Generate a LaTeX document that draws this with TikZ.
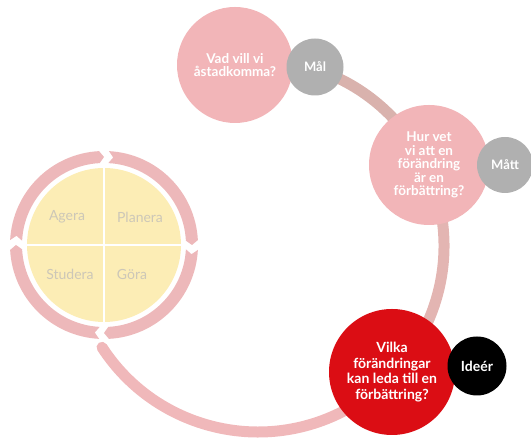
\documentclass[tikz,border=0pt]{standalone}
\usepackage{fontspec}
\setmainfont{Lato}
\usetikzlibrary{positioning,calc}
\definecolor{rosepink}{rgb}{0.95, 0.71, 0.72}
\definecolor{arcpink}{rgb}{0.94, 0.72, 0.73}
\definecolor{dustyrose}{rgb}{0.85, 0.70, 0.68}
\definecolor{midrose}{rgb}{0.89, 0.71, 0.70}
\definecolor{ringpink}{rgb}{0.93, 0.72, 0.73}
\definecolor{paleyellow}{rgb}{0.99, 0.93, 0.71}
\definecolor{fadedgray}{rgb}{0.80, 0.78, 0.72}
\definecolor{signalred}{rgb}{0.86, 0.05, 0.08}
\definecolor{stonegray}{rgb}{0.69, 0.69, 0.69}

\tikzset{
	question/.style={circle, minimum size=#1, inner sep=0pt, align=center, text=white, font=\bfseries\fontsize{13.5}{13.5}\selectfont},
	tag/.style={circle, minimum size=#1, inner sep=0pt, text=white, font=\bfseries\fontsize{13}{14}\selectfont},
	quarter/.style={text=fadedgray, font=\fontsize{14}{16}\selectfont},
	bigarc/.style={line width=11pt}
}

\begin{document}
\begin{tikzpicture}[x=1pt,y=1pt]
		\useasboundingbox (0,0) rectangle (531,443);
		
		% PDSA wheel
		\coordinate (P) at (104,198);
		\fill[paleyellow] (P) circle (77);
		\draw[white, line width=2.5pt] ($(P)+(0,-78)$) -- ($(P)+(0,78)$);
		\draw[white, line width=2.5pt] ($(P)+(-78,0)$) -- ($(P)+(78,0)$);
		\foreach \a in {180,90,0,-90}{
			\fill[ringpink, shift={(P)}] ({\a-3}:94) arc[start angle=\a-3, end angle=\a-87, radius=94] -- ({\a-90}:88) -- ({\a-87}:82) arc[start angle=\a-87, end angle=\a-3, radius=82] -- ({\a-6}:88) -- cycle;
		}
		\node[quarter] (agera) at ($(P)+(-37,28)$) {Agera};
		\node[quarter] (planera) at ($(P)+(36,28)$) {Planera};
		\node[quarter] (studera) at ($(P)+(-34,-29)$) {Studera};
		\node[quarter] (gora) at ($(P)+(28,-29)$) {Göra};
		
		% large arc
		\coordinate (C) at (258,197);
		\draw[bigarc, arcpink, line cap=round] ($(C)+(213:186)$) arc[start angle=213, end angle=300, radius=186];
		\draw[bigarc, midrose] ($(C)+(299:186)$) arc[start angle=299, end angle=386, radius=186];
		\draw[bigarc, dustyrose] ($(C)+(385:186)$) arc[start angle=385, end angle=432, radius=186];
		
		% questions
		\node[question=116pt, fill=rosepink] (goal) at (235,378) {Vad vill vi\\åstadkomma?};
		\node[tag=57pt, fill=stonegray] (mal) at (315,376) {Mål};
		
		\node[question=120pt, fill=rosepink] (measure) at (429,278) {Hur vet\\vi att en\\förändring\\är en\\förbättring?};
		\node[tag=56pt, fill=stonegray] (matt) at (505,278) {Mått};
		
		\node[question=126pt, fill=signalred, font=\bfseries\fontsize{14}{15.5}\selectfont] (change) at (392,71) {Vilka\\förändringar\\kan leda till en\\förbättring?};
		\node[tag=59pt, fill=black, font=\bfseries\fontsize{14}{15}\selectfont] (ideer) at (477,77) {Ideér};
		
\end{tikzpicture}
\end{document}
